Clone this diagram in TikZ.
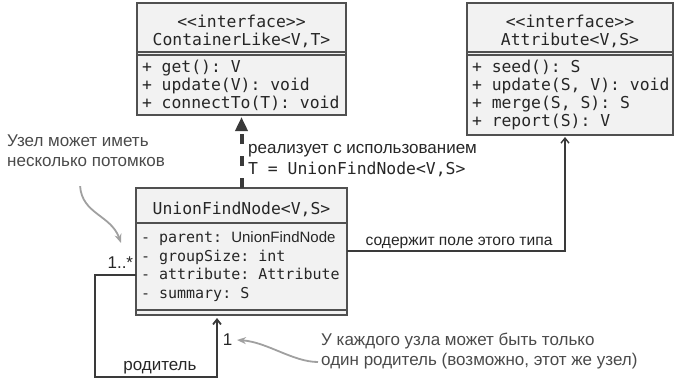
\documentclass[tikz,border=0pt]{standalone}
\usepackage{fontspec}
\setmainfont{Liberation Sans}
\setmonofont{DejaVu Sans Mono}
\usetikzlibrary{arrows.meta,positioning}

\definecolor{umlline}{HTML}{505050}
\definecolor{umlfill}{HTML}{F2F2F2}
\definecolor{wire}{HTML}{3A3A3A}
\definecolor{notegray}{HTML}{A0A0A0}
\definecolor{notetext}{HTML}{4A4A4A}

\newcommand{\monospaces}{\spaceskip=0.602em\relax\xspaceskip=0.602em\relax}
\newcommand{\umlmono}{\ttfamily\fontsize{16.4}{18}\selectfont}
\newcommand{\fieldmono}{\ttfamily\fontsize{15}{18.7}\selectfont}
\newcommand{\notesans}{\rmfamily\fontsize{17}{20}\selectfont}
\newcommand{\headpad}{\rule{0pt}{20pt}}

\begin{document}
\begin{tikzpicture}[
x=1pt, y=-1pt,
umlhead/.style={draw=umlline, fill=umlfill, line width=1.6pt, outer sep=0pt, font=\umlmono, align=center, text=black!85, inner xsep=5pt, inner ysep=2pt, execute at begin node=\monospaces},
umlbody/.style={umlhead, align=left},
umlgap/.style={draw=umlline, fill=umlfill, line width=1.6pt, outer sep=0pt, inner sep=0pt},
implarrow/.style={-{Triangle[length=14pt,width=12pt]}, line width=4pt, draw=wire, dash pattern=on 10pt off 12pt, shorten >=2pt},
assocarrow/.style={-{Straight Barb[length=5pt,width=8pt]}, line width=1.4pt, draw=wire},
notearrow/.style={-{Stealth[length=9pt,width=7pt]}, line width=1.8pt, draw=notegray},
note/.style={font=\notesans, text=notetext, align=left, inner sep=1pt},
wirelabel/.style={font=\notesans, text=black!85, inner sep=2pt}
]
\useasboundingbox (0,0) rectangle (675,381);

% interface ContainerLike
\node[umlhead, minimum width=209pt, minimum height=49pt, anchor=north] (cont) at (241.5,3) {\headpad<\kern0pt<interface>\kern0pt>\\ContainerLike<V,T>};
\node[umlgap, minimum width=209pt, minimum height=3pt, below=0pt of cont] (contgap) {};
\node[umlbody, text width=199pt, minimum height=60pt, below=0pt of contgap] (contops) {+ get(): V\\+ update(V): void\\+ connectTo(T): void};

% interface Attribute
\node[umlhead, minimum width=206pt, minimum height=49pt, anchor=north] (attr) at (570,3) {\headpad<\kern0pt<interface>\kern0pt>\\Attribute<V,S>};
\node[umlgap, minimum width=206pt, minimum height=3pt, below=0pt of attr] (attrgap) {};
\node[umlbody, text width=196pt, minimum height=80pt, below=0pt of attrgap] (attrops) {+ seed(): S\\\mbox{+ update(S, V): void}\\+ merge(S, S): S\\+ report(S): V};

% class UnionFindNode
\node[umlhead, minimum width=211pt, minimum height=35pt, anchor=north] (ufn) at (241.5,188) {\headpad UnionFindNode<V,S>};
\node[umlbody, font=\fieldmono, text width=201pt, minimum height=87pt, below=0pt of ufn] (ufnfields) {- parent: {\rmfamily UnionFindNode}\\- groupSize: int\\- attribute: Attribute\\- summary: S};
\node[umlgap, minimum width=211pt, minimum height=5pt, below=0pt of ufnfields] (ufngap) {};

% realisation
\draw[implarrow] (ufn.north) -- (contops.south);
\node[wirelabel, anchor=west, align=left] (impllabel) at (246,161) {реализует с использованием\\[1pt]{\umlmono\monospaces T = UnionFindNode<V,S>}};

% field of type Attribute
\draw[assocarrow, shorten >=2pt] ([yshift=-28pt]ufnfields.north east) -| node[wirelabel, font=\rmfamily\fontsize{15.6}{20}\selectfont, pos=0.257, above] {содержит поле этого типа} ([xshift=-5pt]attrops.south);

% parent link
\coordinate (selfcorner) at (95,377);
\coordinate (selfend) at ([xshift=-24.5pt]ufngap.south);
\draw[assocarrow, line width=1.8pt, shorten >=3pt] ([yshift=-52pt]ufnfields.north west) node[wirelabel, above left, yshift=4pt] {1..*} -| (selfcorner) -| node[wirelabel, pos=0.266, above] {родитель} node[wirelabel, pos=0.8, right, xshift=3pt] {1} (selfend);

% notes
\node[note, anchor=west] (kidsnote) at (6,151) {Узел может иметь\\несколько потомков};
\coordinate (kidstip) at (121,243);
\draw[notearrow] ([shift={(-6pt,-18pt)}]kidsnote.south) .. controls +(2,28) and +(-10,-28) .. (kidstip);

\node[note, anchor=west] (parentnote) at (320,351) {У каждого узла может быть только\\один родитель (возможно, этот же узел)};
\coordinate (onetip) at (237,340);
\draw[notearrow] ([shift={(-2pt,-11pt)}]parentnote.west) .. controls +(-25,0) and +(30,2) .. (onetip);
\end{tikzpicture}
\end{document}
